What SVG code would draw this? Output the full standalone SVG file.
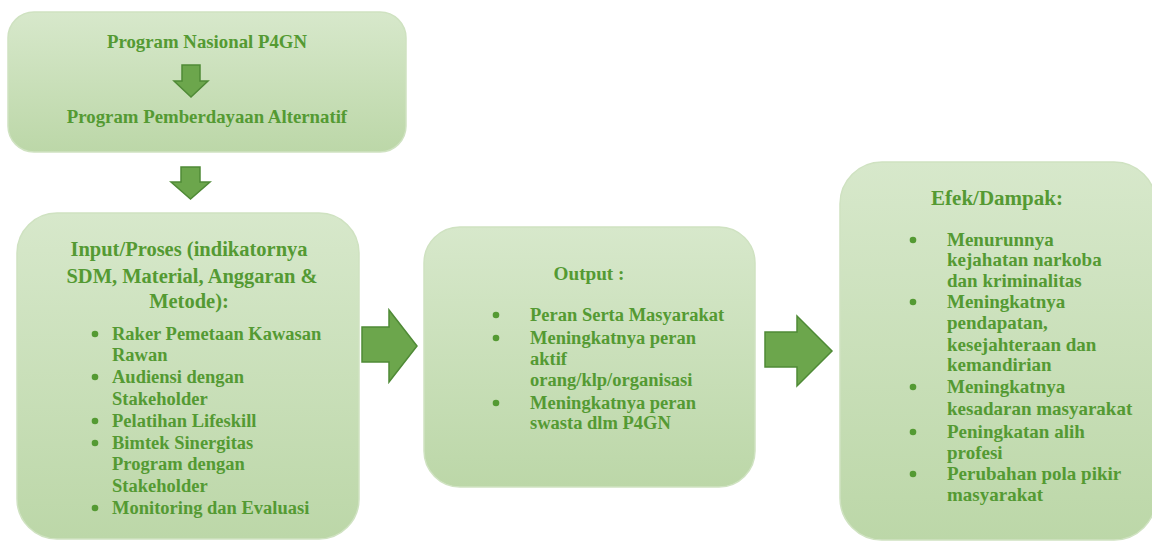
<svg xmlns="http://www.w3.org/2000/svg" width="1152" height="543" viewBox="0 0 1152 543">
<defs>
<linearGradient id="boxfill" x1="0" y1="0" x2="0" y2="1">
<stop offset="0" stop-color="#d7e8cb"/>
<stop offset="1" stop-color="#bcd7a8"/>
</linearGradient>
<style>
.box{fill:url(#boxfill);stroke:#cfe2c1;stroke-width:1.5}
.t{font-family:"Liberation Serif","Times New Roman",serif;font-weight:bold;fill:#549a33}
.h{font-size:19.5px;text-anchor:middle}
.i{font-size:18.5px}
.b{fill:#549a33}
.arr{fill:#6ca64c;stroke:#4f8a36;stroke-width:1.5;stroke-linejoin:miter}
</style>
</defs>
<rect width="1152" height="543" fill="#ffffff"/>

<g id="node-program">
<rect class="box" x="8" y="12" width="398" height="140" rx="26"/>
<text class="t h" x="207" y="48" style="font-size:18.8px">Program Nasional P4GN</text>
<text class="t h" x="207" y="123" style="font-size:18.8px">Program Pemberdayaan Alternatif</text>
</g>

<g id="node-input">
<rect class="box" x="17" y="213" width="342" height="326" rx="40"/>
<text class="t h" x="189" y="256" style="font-size:20.5px">Input/Proses (indikatornya</text>
<text class="t h" x="192" y="283" style="font-size:20.5px">SDM, Material, Anggaran &amp;</text>
<text class="t h" x="189" y="308" style="font-size:20.5px">Metode):</text>
<circle class="b" cx="95" cy="334" r="3.3"/>
<circle class="b" cx="95" cy="377" r="3.3"/>
<circle class="b" cx="95" cy="421" r="3.3"/>
<circle class="b" cx="95" cy="443" r="3.3"/>
<circle class="b" cx="95" cy="508" r="3.3"/>
<text class="t i" x="112" y="340">Raker Pemetaan Kawasan</text>
<text class="t i" x="112" y="361">Rawan</text>
<text class="t i" x="112" y="383">Audiensi dengan</text>
<text class="t i" x="112" y="405">Stakeholder</text>
<text class="t i" x="112" y="427">Pelatihan Lifeskill</text>
<text class="t i" x="112" y="449">Bimtek Sinergitas</text>
<text class="t i" x="112" y="470">Program dengan</text>
<text class="t i" x="112" y="492">Stakeholder</text>
<text class="t i" x="112" y="514">Monitoring dan Evaluasi</text>
</g>

<g id="node-output">
<rect class="box" x="424" y="227" width="331" height="260" rx="36"/>
<text class="t h" x="589" y="280" style="font-size:19.2px">Output :</text>
<circle class="b" cx="496" cy="315" r="3.3"/>
<circle class="b" cx="496" cy="338" r="3.3"/>
<circle class="b" cx="496" cy="403" r="3.3"/>
<text class="t i" x="530" y="321">Peran Serta Masyarakat</text>
<text class="t i" x="530" y="344">Meningkatnya peran</text>
<text class="t i" x="530" y="365">aktif</text>
<text class="t i" x="530" y="386">orang/klp/organisasi</text>
<text class="t i" x="530" y="409">Meningkatnya peran</text>
<text class="t i" x="530" y="429">swasta dlm P4GN</text>
</g>

<g id="node-efek">
<rect class="box" x="840" y="162" width="316" height="378" rx="42"/>
<text class="t h" x="997" y="205" style="font-size:21px">Efek/Dampak:</text>
<circle class="b" cx="913" cy="240" r="3.3"/>
<circle class="b" cx="913" cy="302" r="3.3"/>
<circle class="b" cx="913" cy="387" r="3.3"/>
<circle class="b" cx="913" cy="432" r="3.3"/>
<circle class="b" cx="913" cy="474" r="3.3"/>
<text class="t i" x="947" y="246" style="font-size:19px">Menurunnya</text>
<text class="t i" x="947" y="266" style="font-size:19px">kejahatan narkoba</text>
<text class="t i" x="947" y="287" style="font-size:19px">dan kriminalitas</text>
<text class="t i" x="947" y="308" style="font-size:19px">Meningkatnya</text>
<text class="t i" x="947" y="329" style="font-size:19px">pendapatan,</text>
<text class="t i" x="947" y="351" style="font-size:19px">kesejahteraan dan</text>
<text class="t i" x="947" y="371" style="font-size:19px">kemandirian</text>
<text class="t i" x="947" y="393" style="font-size:19px">Meningkatnya</text>
<text class="t i" x="947" y="415" style="font-size:19px">kesadaran masyarakat</text>
<text class="t i" x="947" y="438" style="font-size:19px">Peningkatan alih</text>
<text class="t i" x="947" y="459" style="font-size:19px">profesi</text>
<text class="t i" x="947" y="480" style="font-size:19px">Perubahan pola pikir</text>
<text class="t i" x="947" y="501" style="font-size:19px">masyarakat</text>
</g>

<g id="connectors">
<polygon class="arr" points="182,65 200,65 200,81 208,81 191,97 174,81 182,81"/>
<polygon class="arr" points="181,167 200,167 200,182 210,182 190.5,199 171,182 181,182"/>
<polygon class="arr" points="362,327 389,327 389,310 417,346 389,382 389,362 362,362"/>
<polygon class="arr" points="765,332 797,332 797,316 832,351 797,386 797,367 765,367"/>
</g>
</svg>
